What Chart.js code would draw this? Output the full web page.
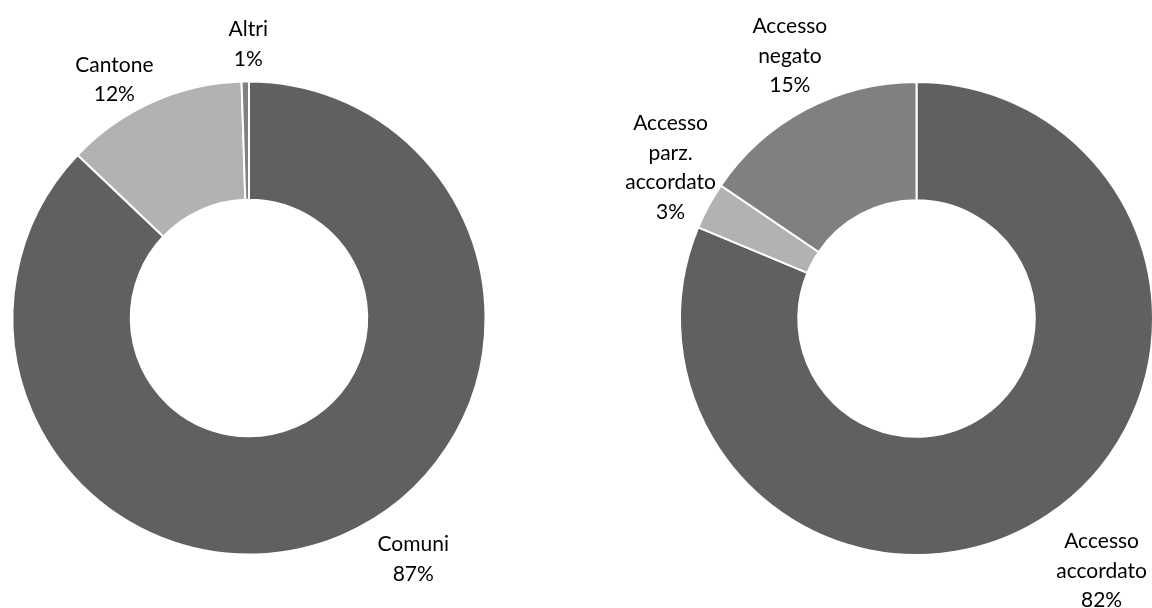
<!DOCTYPE html>
<html>
<head>
<meta charset="utf-8">
<script src="https://cdn.jsdelivr.net/npm/chart.js@4.4.1/dist/chart.umd.min.js"></script>
<style>
  html, body { margin: 0; padding: 0; background: #fff; overflow: hidden; width: 1152px; height: 608px; }
  canvas { position: absolute; top: 0; }
  #leftChart { left: 0; }
  #rightChart { left: 576px; }
</style>
</head>
<body>
<canvas id="leftChart" width="576" height="608"></canvas>
<canvas id="rightChart" width="600" height="608"></canvas>
<script>
// Chart 1: who made the requests
const leftLabels = ["Comuni", "Cantone", "Altri"]
const leftValues = [87.1, 12.4, 0.5]
const leftPercents = ["87%", "12%", "1%"]

// Chart 2: outcome of the requests
const rightLabels = [["Accesso", "accordato"], ["Accesso", "parz.", "accordato"], ["Accesso", "negato"]]
const rightValues = [81.3, 3.2, 15.5]
const rightPercents = ["82%", "3%", "15%"]

const leftColors = ["#606060", "#b2b2b2", "#808080"]
const rightColors = ["#606060", "#b2b2b2", "#808080"]

// label nudges from the middle of each slice's outer edge
const leftOffsets = [[71, 23], [-38, -23], [3, -38]]
const rightOffsets = [[54, 55], [-38, -39], [-16, -54]]

const outerLabels = {
    id: "outerLabels",
    afterDatasetsDraw(chart, args, opts) {
        const ctx = chart.ctx
        const meta = chart.getDatasetMeta(0)
        const lineHeight = 29.5
        const capHeight = 15
        ctx.save()
        ctx.font = "21px Lato"
        ctx.fillStyle = "#000"
        ctx.textAlign = "center"
        ctx.textBaseline = "alphabetic"
        meta.data.forEach((arc, i) => {
            const p = arc.getProps(["x", "y", "startAngle", "endAngle", "outerRadius"], true)
            const mid = (p.startAngle + p.endAngle) / 2
            const ax = p.x + Math.cos(mid) * p.outerRadius + opts.offsets[i][0]
            const ay = p.y + Math.sin(mid) * p.outerRadius + opts.offsets[i][1]
            const lines = [].concat(chart.data.labels[i], opts.percents[i])
            lines.forEach((line, j) => {
                const cy = ay + (j - (lines.length - 1) / 2) * lineHeight
                ctx.fillText(line, ax, cy + capHeight / 2)
            })
        })
        ctx.restore()
    }
}

const makeDoughnut = (id, labels, values, colors, percents, offsets, padding) => {
    const ref = document.getElementById(id).getContext("2d")
    return new Chart(ref, {
        type: "doughnut",
        data: {
            labels: labels,
            datasets: [
                {
                    data: values,
                    backgroundColor: colors,
                    borderColor: "#ffffff",
                    borderWidth: 2
                }
            ]
        },
        options: {
            responsive: false,
            animation: false,
            radius: 236.5,
            cutout: "50%",
            layout: { padding: padding },
            plugins: {
                legend: { display: false },
                tooltip: { enabled: false },
                outerLabels: { percents: percents, offsets: offsets }
            }
        },
        plugins: [outerLabels]
    })
}

makeDoughnut("leftChart", leftLabels, leftValues, leftColors, leftPercents, leftOffsets,
    { left: 12.5, right: 90.5, top: 81.5, bottom: 53.5 })
makeDoughnut("rightChart", rightLabels, rightValues, rightColors, rightPercents, rightOffsets,
    { left: 104, right: 23, top: 82, bottom: 53 })
</script>
</body>
</html>
